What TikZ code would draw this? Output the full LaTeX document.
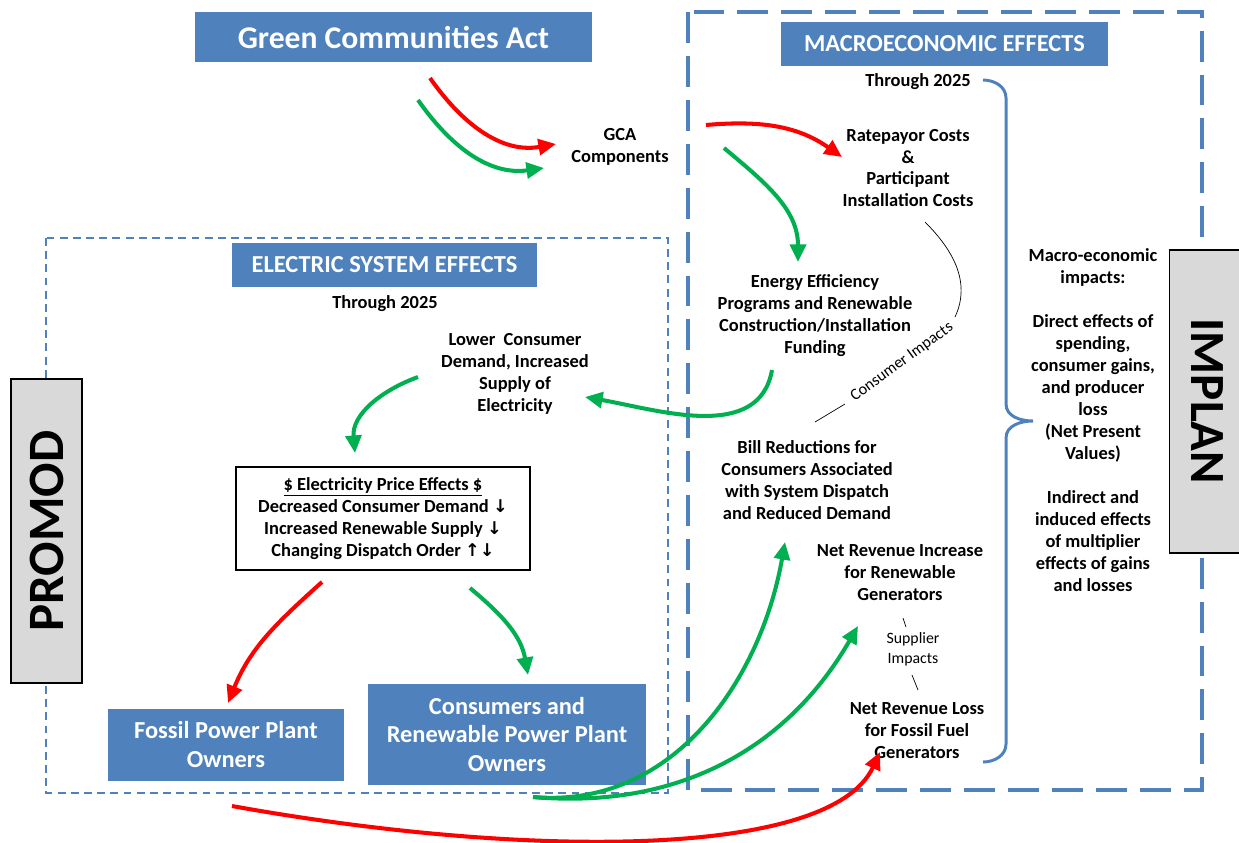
\documentclass[tikz,border=0pt]{standalone}
\usepackage{fontspec}
\setmainfont{Carlito}
\newfontfamily\symfont{DejaVu Sans}
\usetikzlibrary{arrows.meta}

\definecolor{boxblue}{HTML}{4F81BD}
\definecolor{boxgray}{HTML}{D9D9D9}
\definecolor{arrgreen}{HTML}{00B050}
\definecolor{arrred}{HTML}{FF0000}

\newcommand\txtfont{\fontsize{10.5}{12.5}\selectfont\bfseries}
\newcommand\dn{{\symfont\fontsize{10}{12.5}\selectfont\char"2193}}
\newcommand\upa{{\symfont\fontsize{10}{12.5}\selectfont\char"2191}}

\begin{document}
\begin{tikzpicture}[
  x=0.02cm, y=0.02cm,
  every node/.style = {align=center, inner sep=0pt},
  txt/.style = {font=\txtfont},
  small/.style = {font=\fontsize{9}{11.4}\selectfont},
  bluebox/.style = {fill=boxblue, text=white, font=\fontsize{13.9}{16.5}\selectfont\bfseries},
  hdrbox/.style = {fill=boxblue, text=white, font=\fontsize{13.9}{15}\selectfont\bfseries, minimum height=0.88cm},
  toolbox/.style = {fill=boxgray, draw=black, line width=0.8pt, font=\fontsize{29}{30}\selectfont\bfseries},
  elecarea/.style = {draw=boxblue, line width=1.2pt, dash pattern=on 4.5pt off 3pt},
  macroarea/.style = {draw=boxblue, line width=1.9pt, dash pattern=on 17.6pt off 7.4pt},
  gline/.style = {draw=arrgreen, line width=2.3pt, -{Triangle[length=10pt,width=9pt]}},
  rline/.style = {draw=arrred, line width=2.3pt, -{Triangle[length=10pt,width=9pt]}}
]
  \useasboundingbox (0,0) rectangle (1239,-842);

  % model areas
  \draw[elecarea] (46,-238) rectangle (668,-793);
  \draw[macroarea] (688,-12) rectangle (1202,-790);

  % top
  \node[bluebox, minimum width=7.94cm, minimum height=1cm, font=\fontsize{18}{20}\selectfont\bfseries] (gca) at (393.5,-37) {Green Communities Act};
  \node[txt] (comp) at (620,-147) {GCA\\Components};

  % macroeconomic side
  \node[hdrbox, minimum width=6.54cm] (macrohdr) at (944.5,-44) {MACROECONOMIC EFFECTS};
  \node[txt] (macroyr) at (918,-82) {Through 2025};
  \node[txt] (rate) at (908,-168) {Ratepayor Costs\\\&\\Participant\\Installation Costs};
  \node[txt] (eeprog) at (815,-316) {Energy Efficiency\\Programs and Renewable\\Construction/Installation\\Funding};
  \node[txt] (bill) at (807,-480) {Bill Reductions for\\Consumers Associated\\with System Dispatch\\and Reduced Demand};
  \node[txt] (revup) at (900,-573) {Net Revenue Increase\\for Renewable\\Generators};
  \node[small] (supp) at (913,-649) {Supplier\\Impacts};
  \node[txt] (revdown) at (917,-731) {Net Revenue Loss\\for Fossil Fuel\\Generators};
  \node[txt] (impacts) at (1093,-420) {Macro-economic\\impacts:\\[12.5pt]Direct effects of\\spending,\\consumer gains,\\and producer\\loss\\(Net Present\\Values)\\[12.5pt]Indirect and\\induced effects\\of multiplier\\effects of gains\\and losses};
  \node[font=\fontsize{9.2}{10}\selectfont, rotate=36] (cimp) at (902,-362) {Consumer Impacts};

  % electric system side
  \node[hdrbox, minimum width=6.1cm] (elechdr) at (384.5,-265) {ELECTRIC SYSTEM EFFECTS};
  \node[txt] (elecyr) at (385,-304) {Through 2025};
  \node[txt] (lower) at (515,-374) {Lower\ \ Consumer\\Demand, Increased\\Supply of\\Electricity};
  \node[txt, fill=white, draw=black, line width=0.8pt, minimum width=5.88cm, minimum height=2.06cm] (price) at (383,-518.5)
    {\underline{\$ Electricity Price Effects \$}\\Decreased Consumer Demand \dn\\Increased Renewable Supply \dn\\Changing Dispatch Order \upa\dn};
  \node[bluebox, minimum width=4.72cm, minimum height=1.44cm] (fossil) at (226,-745) {Fossil Power Plant\\Owners};
  \node[bluebox, minimum width=5.56cm, minimum height=2.02cm] (cons) at (507,-734.5) {Consumers and\\Renewable Power Plant\\Owners};

  % models
  \node[toolbox, minimum width=6.08cm, minimum height=1.42cm, rotate=90] (promod) at (46.5,-531) {PROMOD};
  \node[toolbox, minimum width=6.06cm, minimum height=1.5cm, rotate=-90, font=\fontsize{28}{30}\selectfont\bfseries] (implan) at (1207,-401.5) {IMPLAN};

  % arrow ends
  \coordinate (a1) at (430,-78);   \coordinate (b1) at (556,-144);
  \coordinate (a2) at (418,-100);  \coordinate (b2) at (544,-168);
  \coordinate (a3) at (706,-125);  \coordinate (b3) at (842,-157);
  \coordinate (a4) at (724,-148);  \coordinate (b4) at (798,-262);
  \coordinate (a5) at (772,-370);  \coordinate (b5) at (585,-397);
  \coordinate (a6) at (418,-377);  \coordinate (b6) at (355,-453);
  \coordinate (a7) at (322,-582);  \coordinate (b7) at (228,-703);
  \coordinate (a8) at (470,-588);  \coordinate (b8) at (528,-675);
  \coordinate (a9) at (533,-797);  \coordinate (b9) at (785,-542);  \coordinate (c9) at (858,-626);
  \coordinate (a10) at (232,-806); \coordinate (b10) at (880,-752);

  \draw[rline] (a1) to[out=-55,in=190] (b1);
  \draw[gline] (a2) to[out=-55,in=188] (b2);
  \draw[rline] (a3) to[out=5,in=145] (b3);
  \draw[gline] (a4) to[out=-40,in=90] (b4);
  \draw[gline] (a5) to[out=-100,in=-10] (b5);
  \draw[gline] (a6) to[out=200,in=95] (b6);
  \draw[rline] (a7) to[out=-138,in=68] (b7);
  \draw[gline] (a8) to[out=-40,in=100] (b8);
  \draw[gline] (a9) to[out=-5,in=-100] (b9);
  \draw[gline] (a9) to[out=-5,in=-120] (c9);
  \draw[rline] (a10) .. controls (520,-858) and (830,-860) .. (b10);

  % impact markers
  \coordinate (ct) at (925,-222); \coordinate (cb) at (955,-317);
  \coordinate (cl) at (815,-422); \coordinate (cr) at (845,-404);
  \draw[thin] (ct) to[out=-45,in=65] (cb);
  \draw[thin] (cl) -- (cr);
  \coordinate (s1) at (903,-618); \coordinate (s2) at (906,-627);
  \coordinate (s3) at (912,-675); \coordinate (s4) at (918,-690);
  \draw[thin] (s1) -- (s2);
  \draw[thin] (s3) -- (s4);

  % brace over the macro results
  \draw[boxblue, line width=1.7pt] (983,-80) to[out=0,in=90] (1006,-98) -- (1006,-404)
    to[out=-90,in=180] (1033,-421) to[out=180,in=90] (1006,-438) -- (1006,-744) to[out=-90,in=0] (983,-762);
\end{tikzpicture}
\end{document}
